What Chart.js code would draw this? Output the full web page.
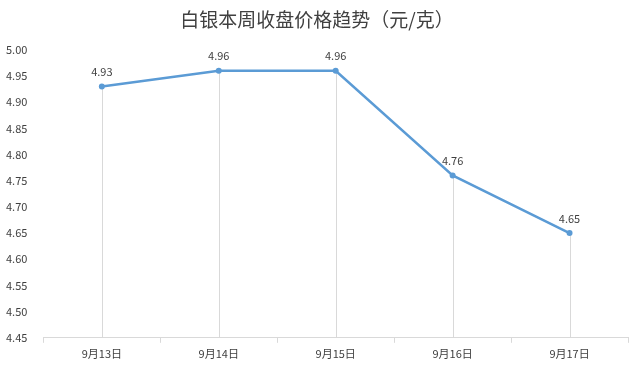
<!DOCTYPE html>
<html>
<head>
<meta charset="utf-8">
<script src="https://cdn.jsdelivr.net/npm/chart.js@4"></script>
<style>
  html, body { margin: 0; padding: 0; background: #fff; }
  #wrap { width: 640px; height: 368px; }
</style>
</head>
<body>
<div id="wrap"><canvas id="c"></canvas></div>
<script>
var days = ["9月13日", "9月14日", "9月15日", "9月16日", "9月17日"];
var prices = [4.93, 4.96, 4.96, 4.76, 4.65];
var yTicks = [4.45, 4.50, 4.55, 4.60, 4.65, 4.70, 4.75, 4.80, 4.85, 4.90, 4.95, 5.00];

var blue = "#5b9bd5";
var grid = "#d9d9d9";
var font = "'Noto Sans CJK SC', 'Noto Sans', sans-serif";

// vertical drop lines from each point down to the x axis
var dropLines = {
  id: "dropLines",
  beforeDatasetsDraw: function(chart) {
    var ctx = chart.ctx;
    var meta = chart.getDatasetMeta(0);
    ctx.save();
    ctx.strokeStyle = grid;
    ctx.lineWidth = 1;
    meta.data.forEach(function(p) {
      var x = Math.round(p.x) + 0.5;
      ctx.beginPath();
      ctx.moveTo(x, p.y);
      ctx.lineTo(x, chart.chartArea.bottom);
      ctx.stroke();
    });
    ctx.restore();
  }
};

// value labels above the points
var valueLabels = {
  id: "valueLabels",
  afterDatasetsDraw: function(chart) {
    var ctx = chart.ctx;
    var meta = chart.getDatasetMeta(0);
    ctx.save();
    ctx.fillStyle = "#404040";
    ctx.font = "11px " + font;
    ctx.textAlign = "center";
    ctx.textBaseline = "bottom";
    meta.data.forEach(function(p, i) {
      ctx.fillText(prices[i].toFixed(2), p.x, p.y - 9);
    });
    ctx.restore();
  }
};

new Chart(document.getElementById("c"), {
  type: "line",
  data: {
    labels: days,
    datasets: [{
      data: prices,
      borderColor: blue,
      backgroundColor: blue,
      borderWidth: 2.5,
      pointRadius: 3,
      pointBackgroundColor: blue,
      pointBorderWidth: 0,
      tension: 0
    }]
  },
  options: {
    responsive: true,
    maintainAspectRatio: false,
    animation: false,
    layout: { padding: { left: 6, right: 12, top: 8, bottom: 4 } },
    plugins: {
      legend: { display: false },
      tooltip: { enabled: false },
      title: {
        display: true,
        text: "白银本周收盘价格趋势（元/克）",
        color: "#404040",
        font: { family: font, size: 19, weight: "normal" },
        padding: { top: 0, bottom: 19 }
      }
    },
    scales: {
      x: {
        offset: true,
        grid: {
          offset: true,
          drawOnChartArea: false,
          drawTicks: true,
          tickLength: 5,
          color: grid
        },
        border: { display: true, color: grid },
        ticks: {
          color: "#404040",
          font: { family: font, size: 11 },
          padding: 4
        }
      },
      y: {
        min: yTicks[0],
        max: yTicks[yTicks.length - 1],
        grid: { display: false },
        border: { display: false },
        afterBuildTicks: function(axis) {
          axis.ticks = yTicks.map(function(v) { return { value: v }; });
        },
        ticks: {
          color: "#404040",
          crossAlign: "far",
          padding: 4,
          font: { family: font, size: 11 },
          callback: function(v) { return Number(v).toFixed(2); }
        }
      }
    }
  },
  plugins: [dropLines, valueLabels]
});
</script>
</body>
</html>
